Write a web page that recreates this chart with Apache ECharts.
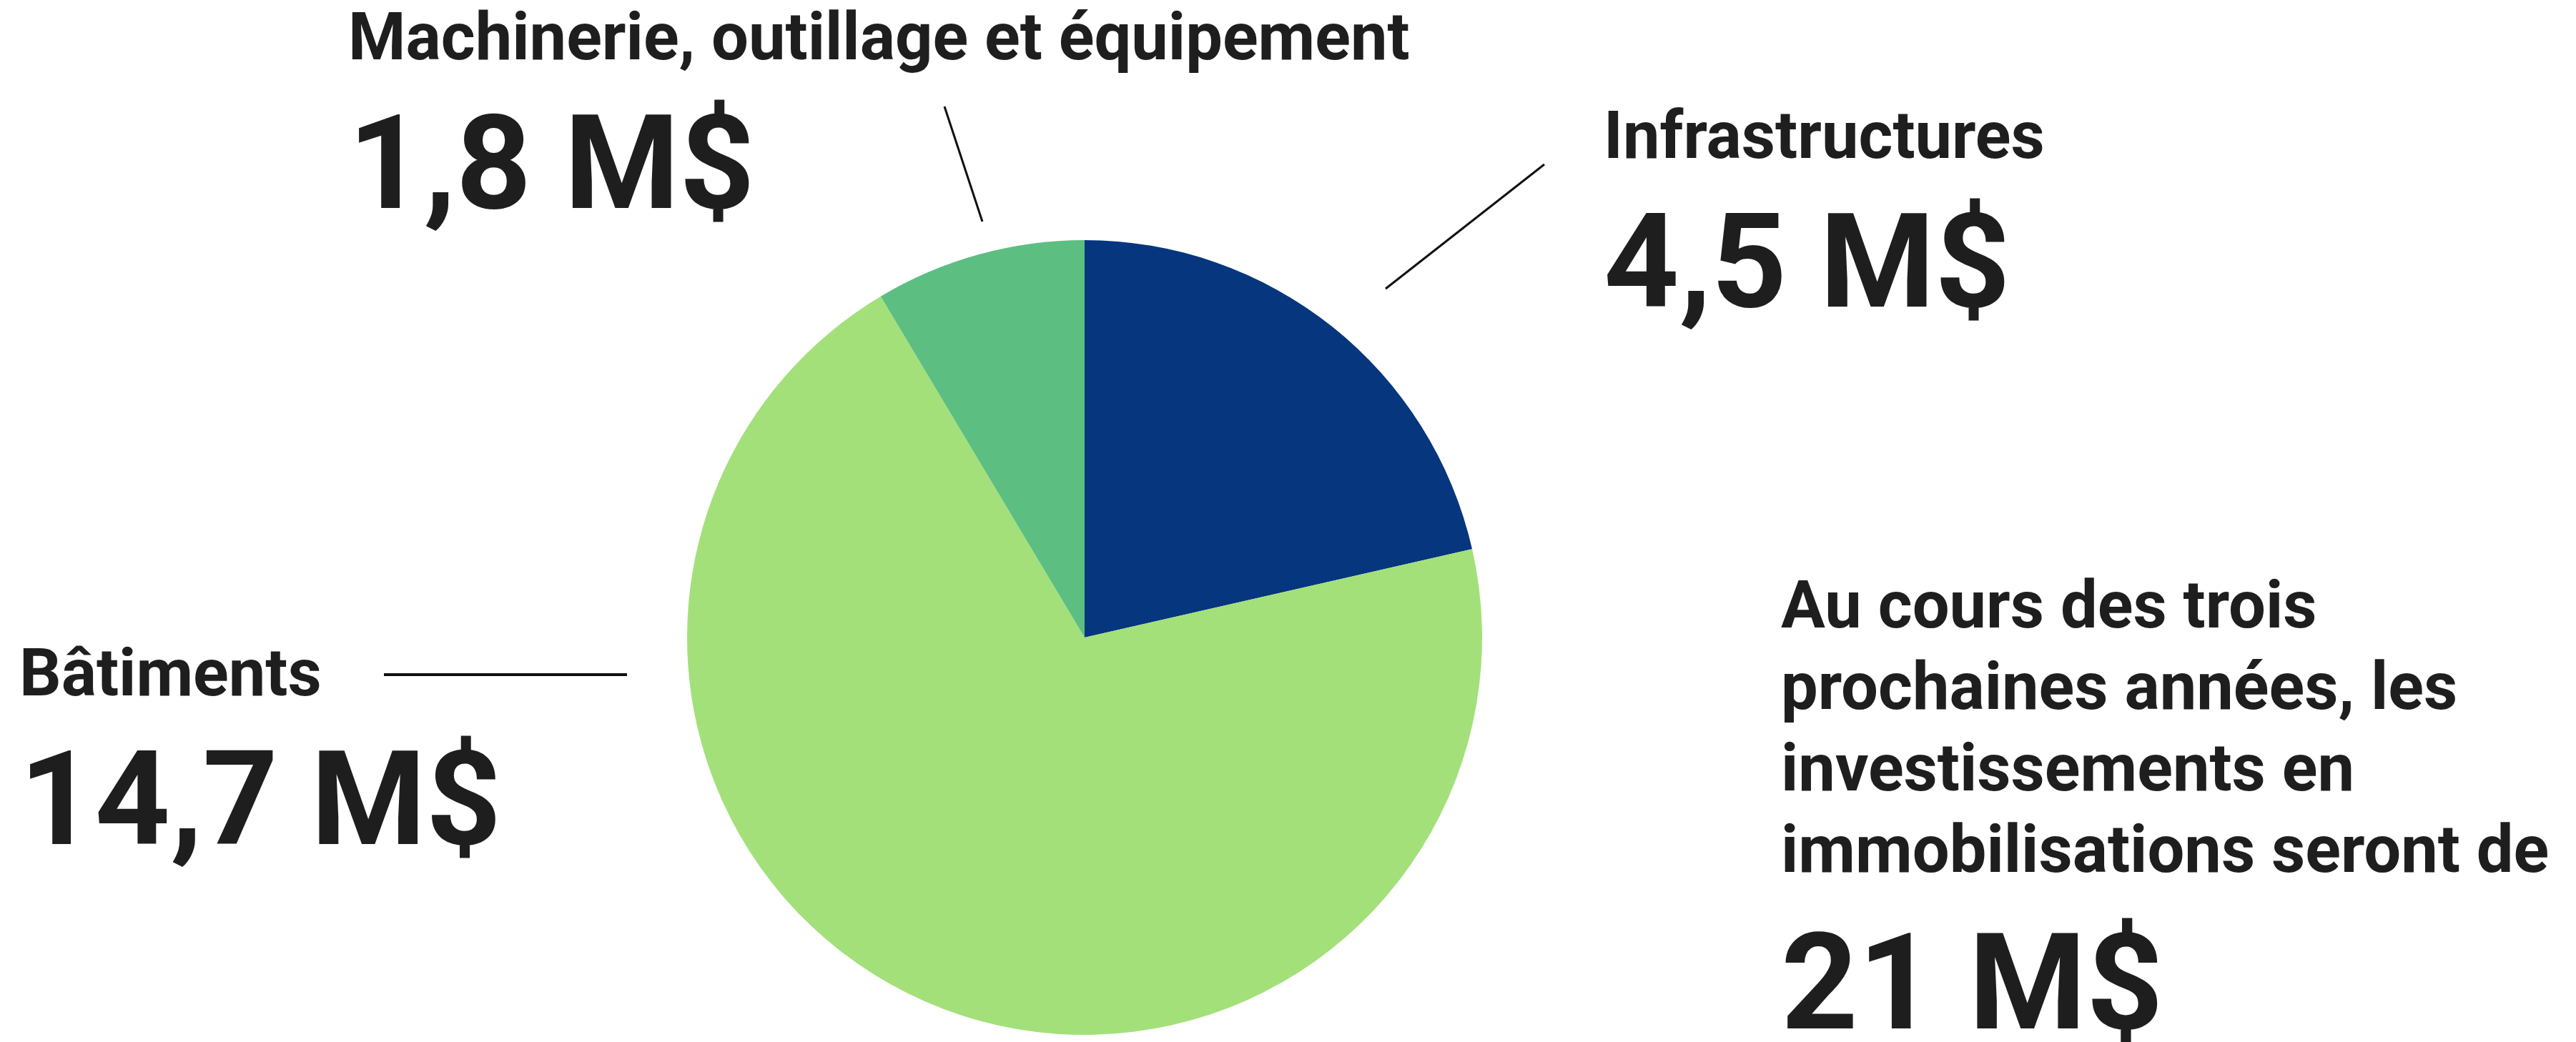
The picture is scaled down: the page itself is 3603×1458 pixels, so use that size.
<!DOCTYPE html>
<html>
<head>
<meta charset="utf-8">
<script src="https://cdn.jsdelivr.net/npm/echarts@6/dist/echarts.min.js"></script>
<style>
  html, body { margin: 0; padding: 0; background: #fff; }
  #chart { width: 3603px; height: 1458px; }
</style>
</head>
<body>
<div id="chart"></div>
<script>
// données
const categories = ['Infrastructures', 'Bâtiments', 'Machinerie, outillage et équipement']
const values = [4.5, 14.7, 1.8]
const colors = ['#06367e', '#a3e07a', '#5dbe82']
const introLines = [
  'Au cours des trois',
  'prochaines années, les',
  'investissements en',
  'immobilisations seront de'
]

const fmt = v => String(v).replace('.', ',') + ' M$'
const total = values.reduce((a, b) => a + b, 0)

const FONT = 'Roboto, "Noto Sans", sans-serif'
const INK = '#1e1e1e'
const SMALL = 92
const BIG = 184

function label (text, x, y, size) {
  return {
    type: 'text',
    style: {
      text: text,
      x: x,
      y: y,
      fill: INK,
      font: '700 ' + size + 'px ' + FONT,
      textAlign: 'left',
      textVerticalAlign: 'middle'
    }
  }
}

function rule (x1, y1, x2, y2, w) {
  return {
    type: 'line',
    shape: { x1: x1, y1: y1, x2: x2, y2: y2 },
    style: { stroke: '#111', lineWidth: w }
  }
}

const chart = echarts.init(document.getElementById('chart'), null, { renderer: 'canvas' })

chart.setOption({
  backgroundColor: '#fff',
  animation: false,
  series: [
    {
      type: 'pie',
      center: [1517, 892],
      radius: [0, 556],
      startAngle: 90,
      clockwise: true,
      label: { show: false },
      labelLine: { show: false },
      emphasis: { disabled: true },
      data: categories.map((name, i) => ({
        name: name,
        value: values[i],
        itemStyle: { color: colors[i] }
      }))
    }
  ],
  graphic: [
    // Machinerie
    label(categories[2], 487, 60, SMALL),
    label(fmt(values[2]), 487, 245, BIG),
    rule(1321, 149, 1374, 310, 3),
    // Infrastructures
    label(categories[0], 2243, 198, SMALL),
    label(fmt(values[0]), 2243, 383, BIG),
    rule(1938, 404, 2160, 230, 3),
    // Bâtiments
    label(categories[1], 27, 950, SMALL),
    label(fmt(values[1]), 27, 1135, BIG),
    rule(537, 944, 877, 944, 4),
    // texte de droite
    ...introLines.map((t, i) => label(t, 2491, 855 + i * 114, SMALL)),
    label(fmt(total), 2491, 1392, 188)
  ]
})
</script>
</body>
</html>
